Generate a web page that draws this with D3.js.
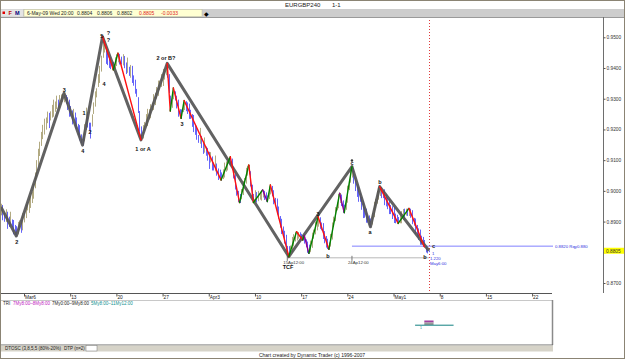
<!DOCTYPE html>
<html><head><meta charset="utf-8">
<script src="https://cdn.jsdelivr.net/npm/d3@7"></script>
<style>html,body{margin:0;padding:0;background:#fff;}svg{display:block;font-family:"Liberation Sans",Arial,sans-serif;}</style>
</head><body><svg id="c" width="625" height="359"></svg>
<script>
// ---------- DATA ----------
const symbol = "EURGBP240", pageNo = "1-1";
const infoDate = "6-May-09 Wed 20:00";
const infoOHLC = ["0.8804", "0.8806", "0.8802"];
const infoLast = ["0.8805", "-0.0033"];
const lastPrice = 0.8805;

// trading-day index: Mon 2 Mar 2009 = day 0, 5 days a week
const tickDays = [4, 9, 14, 19, 24, 29, 34, 39, 44, 49, 54, 59];
const tickLabels = ["Mar6", "13", "20", "27", "Apr3", "10", "17", "24", "May1", "8", "15", "22"];
const priceTicks = [0.87, 0.88, 0.89, 0.90, 0.91, 0.92, 0.93, 0.94, 0.95];

// 4-hour bars, first bar Tue 3 Mar 12:00
const firstBarDay = 1.5, barsPerDay = 6;
const barHigh = [
0.8958,0.8954,0.8929,0.8940,0.8932,0.8916,0.8932,0.8907,0.8905,0.8889,
0.8885,0.8899,0.8904,0.8905,0.8927,0.8931,0.8957,0.8962,0.8980,0.8984,
0.8998,0.9024,0.9060,0.9100,0.9137,0.9160,0.9192,0.9215,0.9235,0.9239,
0.9258,0.9254,0.9259,0.9280,0.9297,0.9291,0.9310,0.9297,0.9312,0.9314,
0.9316,0.9318,0.9312,0.9305,0.9297,0.9276,0.9262,0.9267,0.9255,0.9239,
0.9218,0.9214,0.9184,0.9180,0.9217,0.9271,0.9252,0.9222,0.9222,0.9249,
0.9288,0.9324,0.9334,0.9380,0.9407,0.9440,0.9502,0.9485,0.9465,0.9449,
0.9438,0.9434,0.9419,0.9420,0.9435,0.9445,0.9448,0.9446,0.9437,0.9445,
0.9439,0.9418,0.9434,0.9404,0.9410,0.9407,0.9376,0.9362,0.9332,0.9305,
0.9260,0.9210,0.9214,0.9224,0.9250,0.9267,0.9266,0.9282,0.9287,0.9315,
0.9319,0.9338,0.9359,0.9359,0.9380,0.9397,0.9396,0.9412,0.9415,0.9380,
0.9310,0.9308,0.9335,0.9324,0.9310,0.9297,0.9266,0.9265,0.9282,0.9294,
0.9292,0.9288,0.9284,0.9264,0.9250,0.9247,0.9216,0.9212,0.9182,0.9205,
0.9179,0.9158,0.9174,0.9144,0.9140,0.9127,0.9126,0.9112,0.9092,0.9115,
0.9089,0.9073,0.9069,0.9060,0.9070,0.9092,0.9096,0.9108,0.9109,0.9111,
0.9105,0.9078,0.9054,0.9014,0.9000,0.8990,0.9006,0.9032,0.9042,0.9075,
0.9082,0.9084,0.9064,0.9020,0.8990,0.9002,0.8996,0.9000,0.8997,0.9002,
0.9003,0.9000,0.8995,0.8985,0.9015,0.9019,0.9016,0.9002,0.8977,0.8975,
0.8949,0.8918,0.8909,0.8884,0.8870,0.8857,0.8821,0.8820,0.8822,0.8850,
0.8859,0.8865,0.8867,0.8866,0.8865,0.8860,0.8855,0.8855,0.8842,0.8835,
0.8825,0.8838,0.8864,0.8874,0.8900,0.8914,0.8916,0.8914,0.8897,0.8895,
0.8869,0.8853,0.8844,0.8832,0.8860,0.8897,0.8916,0.8947,0.8962,0.8990,
0.8992,0.8988,0.8969,0.8955,0.8980,0.9017,0.9036,0.9072,0.9079,0.9075,
0.9039,0.9018,0.9014,0.8994,0.8980,0.8967,0.8946,0.8942,0.8922,0.8920,
0.8910,0.8928,0.8964,0.8974,0.9000,0.9012,0.9014,0.9012,0.9002,0.9005,
0.8989,0.8978,0.8974,0.8954,0.8950,0.8947,0.8926,0.8922,0.8915,0.8930,
0.8934,0.8941,0.8942,0.8942,0.8942,0.8943,0.8942,0.8937,0.8912,0.8910,
0.8889,0.8878,0.8874,0.8854,0.8850,0.8840,0.8820,0.8812,0.8806];
const barLow = [
0.8922,0.8906,0.8901,0.8900,0.8878,0.8884,0.8888,0.8883,0.8860,0.8858,
0.8853,0.8860,0.8876,0.8865,0.8873,0.8899,0.8913,0.8938,0.8930,0.8946,
0.8962,0.8976,0.9010,0.9045,0.9083,0.9115,0.9148,0.9170,0.9185,0.9201,
0.9222,0.9206,0.9231,0.9240,0.9243,0.9259,0.9268,0.9273,0.9270,0.9286,
0.9292,0.9290,0.9286,0.9265,0.9243,0.9244,0.9218,0.9243,0.9205,0.9201,
0.9182,0.9166,0.9156,0.9149,0.9163,0.9200,0.9208,0.9198,0.9172,0.9211,
0.9252,0.9276,0.9306,0.9340,0.9353,0.9390,0.9435,0.9452,0.9415,0.9411,
0.9402,0.9398,0.9397,0.9394,0.9400,0.9408,0.9420,0.9413,0.9413,0.9410,
0.9401,0.9382,0.9386,0.9376,0.9370,0.9353,0.9344,0.9318,0.9308,0.9255,
0.9195,0.9166,0.9172,0.9196,0.9210,0.9213,0.9234,0.9238,0.9263,0.9265,
0.9281,0.9302,0.9311,0.9331,0.9340,0.9343,0.9364,0.9378,0.9370,0.9320,
0.9260,0.9272,0.9300,0.9296,0.9270,0.9243,0.9240,0.9236,0.9258,0.9265,
0.9261,0.9252,0.9236,0.9236,0.9210,0.9193,0.9184,0.9168,0.9158,0.9155,
0.9141,0.9122,0.9126,0.9116,0.9100,0.9073,0.9094,0.9068,0.9068,0.9065,
0.9051,0.9037,0.9038,0.9035,0.9040,0.9045,0.9064,0.9068,0.9088,0.9085,
0.9071,0.9042,0.9006,0.8986,0.8965,0.8962,0.8974,0.8988,0.9018,0.9025,
0.9051,0.9055,0.9016,0.8980,0.8962,0.8965,0.8964,0.8968,0.8973,0.8970,
0.8980,0.8972,0.8968,0.8965,0.8975,0.8990,0.8984,0.8958,0.8953,0.8925,
0.8911,0.8882,0.8861,0.8856,0.8830,0.8803,0.8789,0.8786,0.8798,0.8800,
0.8821,0.8837,0.8840,0.8846,0.8841,0.8842,0.8840,0.8830,0.8818,0.8800,
0.8797,0.8802,0.8816,0.8846,0.8860,0.8873,0.8885,0.8878,0.8873,0.8845,
0.8831,0.8817,0.8812,0.8810,0.8820,0.8843,0.8884,0.8903,0.8938,0.8945,
0.8962,0.8952,0.8931,0.8929,0.8940,0.8963,0.9004,0.9028,0.9045,0.9025,
0.9001,0.8982,0.8966,0.8966,0.8940,0.8913,0.8914,0.8898,0.8898,0.8888,
0.8883,0.8892,0.8916,0.8946,0.8960,0.8973,0.8985,0.8978,0.8978,0.8955,
0.8951,0.8942,0.8926,0.8926,0.8910,0.8897,0.8896,0.8896,0.8894,0.8896,
0.8896,0.8907,0.8906,0.8921,0.8920,0.8920,0.8914,0.8893,0.8888,0.8860,
0.8851,0.8842,0.8826,0.8826,0.8820,0.8818,0.8801,0.8798,0.8802];

// major swing (bar index, price)
const majorBars   = [0, 10, 41, 53, 66, 91, 108, 187, 228, 240, 246, 278];
const majorPrices = [0.8948, 0.8853, 0.9318, 0.9149, 0.9502, 0.9166, 0.9415, 0.8786, 0.9079, 0.8883, 0.9014, 0.8805];

// minor swings (runs of [bar index, price])
const minorRuns = [
  [[66,0.9502],[73,0.9394],[76,0.9448],[91,0.9166]],
  [[108,0.9415],[110,0.9260],[112,0.9335],[117,0.9236],[119,0.9294],[143,0.9035],[149,0.9111],
   [155,0.8962],[161,0.9084],[164,0.8962],[170,0.9003],[173,0.8965],[175,0.9019],[187,0.8786],
   [192,0.8867],[196,0.8840],[197,0.8855],[200,0.8797],[206,0.8916],[213,0.8810],[220,0.8992],
   [223,0.8929],[228,0.9079]],
  [[246,0.9014],[258,0.8894],[265,0.8943],[275,0.8818]]
];
const purpleLegStarts = [170, 197, 220];

// wave labels: text, bar index, price
const waveText  = ["2","3","4","1","2","5","?","?","4","1 or A","2 or B?","3","3","b","c","a","b","b","TCF"];
const waveBar   = [10.3,41.2,53.1,54,57.9,65.5,69.9,69.9,67,92.3,107.2,117.6,206,212.4,228,239.7,246.2,275.4,186.5];
const wavePrice = [0.8834,0.9328,0.9130,0.9254,0.9192,0.9503,0.9514,0.9491,0.9348,0.9136,0.9433,0.9218,0.8925,0.8788,0.9091,0.8866,0.9029,0.8785,0.8752];

// time/price annotations
const timeMarkDays = [32.5, 39.5];
const timeMarkLabels = ["15Ap12:00", "24Ap12:00"];
const timeLinePrice = 0.8782;
const targetPrice = 0.8820, targetLabel = "0.8820 Rqy0.880";
const projLabels = ["1", "1.220", "May6:00"];

// time range indicator (TRI)
const triLabels = ["7My8:00–8My8:00", "7My0:00–9My8:00", "5My8:00–11My12:00"];
const triStart = [47.333, 47.333, 46.333];
const triEnd   = [48.333, 48.333, 50.5];
const tabLabels = ["DTOSC (3,8,5,5 (80%-20%)", "DTP (n=2)", "TRI"];
const footer = "Chart created by Dynamic Trader  (c) 1996-2007";

// ---------- DRAW ----------
const svg = d3.select("#c");
const W = 625, H = 359;
const plotL = 1, plotR = 603, plotT = 17, plotB = 293, axisEnd = 552;
const x = d3.scaleLinear().domain([4, 59]).range([24, 532.1]);
const y = d3.scaleLinear().domain([0.87, 0.95]).range([283, 37.3]);
const barDay = i => firstBarDay + i / barsPerDay;
const bx = i => x(barDay(i));

svg.append("rect").attr("width", W).attr("height", H).attr("fill", "#fff");

// header
svg.append("text").attr("x", 285).attr("y", 7).attr("font-size", 6).attr("fill", "#222").text(symbol);
svg.append("text").attr("x", 332).attr("y", 7).attr("font-size", 6).attr("fill", "#222").text(pageNo);
svg.append("rect").attr("x", 1).attr("y", 9).attr("width", 623).attr("height", 8).attr("fill", "#cdcdcd");
svg.append("rect").attr("x", 1).attr("y", 9.5).attr("width", 22).attr("height", 7).attr("fill", "#e4e4e4");
svg.append("rect").attr("x", 2.5).attr("y", 11.5).attr("width", 2.5).attr("height", 2.5).attr("fill", "#e00000");
svg.append("text").attr("x", 8.5).attr("y", 15).attr("font-size", 5.5).attr("font-weight", "bold").attr("fill", "#c00000").text("F");
svg.append("text").attr("x", 15).attr("y", 15).attr("font-size", 5.5).attr("font-weight", "bold").attr("fill", "#000080").text("M");
svg.append("rect").attr("x", 24).attr("y", 9.5).attr("width", 178).attr("height", 7).attr("fill", "#ffffd2").attr("stroke", "#bdbda0").attr("stroke-width", 0.5);
const info = svg.append("g").attr("font-size", 5).attr("fill", "#222");
info.append("text").attr("x", 27).attr("y", 15).text(infoDate);
infoOHLC.forEach((t, k) => info.append("text").attr("x", 77 + k * 20).attr("y", 15).text(t));
infoLast.forEach((t, k) => info.append("text").attr("x", 139 + k * 22).attr("y", 15).attr("fill", "#e02020").text(t));
svg.append("text").attr("x", 204).attr("y", 15.5).attr("font-size", 6).attr("fill", "#000").text("◆");

// plot frame lines
svg.append("line").attr("x1", 0).attr("x2", W).attr("y1", plotT + 0.5).attr("y2", plotT + 0.5).attr("stroke", "#9a9a9a");

svg.append("defs").append("clipPath").attr("id", "pc").append("rect")
  .attr("x", plotL).attr("y", plotT + 1).attr("width", plotR - plotL).attr("height", plotB - plotT - 1);
const plot = svg.append("g").attr("clip-path", "url(#pc)");

// current-time dotted line
const nowX = Math.round(bx(barHigh.length - 1)) + 0.5;
plot.append("line").attr("x1", nowX).attr("x2", nowX)
  .attr("y1", plotT + 3).attr("y2", plotB).attr("stroke", "#e03a3a").attr("stroke-width", 1).attr("stroke-dasharray", "1,2");

// time line with marks
plot.append("line").attr("x1", x(timeMarkDays[0])).attr("x2", bx(barHigh.length - 1))
  .attr("y1", y(timeLinePrice)).attr("y2", y(timeLinePrice)).attr("stroke", "#b8b8b8").attr("stroke-width", 1);
timeMarkDays.forEach((d, k) => {
  plot.append("line").attr("x1", x(d)).attr("x2", x(d)).attr("y1", y(timeLinePrice) - 2).attr("y2", y(timeLinePrice) + 3).attr("stroke", "#777");
  plot.append("text").attr("x", x(d) - 4).attr("y", y(timeLinePrice) + 6).attr("font-size", 4.3).attr("fill", "#333").text(timeMarkLabels[k]);
});

// target line
plot.append("line").attr("x1", x(timeMarkDays[1])).attr("x2", 553).attr("y1", y(targetPrice)).attr("y2", y(targetPrice))
  .attr("stroke", "#8080ff").attr("stroke-width", 1);
plot.append("text").attr("x", 555).attr("y", y(targetPrice) + 1.6).attr("font-size", 4.3).attr("fill", "#3030e0").text(targetLabel);

// bars
const bars = plot.append("g");
barHigh.forEach((h, i) => {
  const l = barLow[i];
  const mid = (h + l) / 2;
  const prevMid = i > 0 ? (barHigh[i - 1] + barLow[i - 1]) / 2 : mid;
  const col = mid >= prevMid ? "#b2aa82" : "#6464fa";
  const xx = Math.round(bx(i)) + 0.5;
  bars.append("line").attr("x1", xx).attr("x2", xx).attr("y1", y(h)).attr("y2", y(l) + 0.5)
    .attr("stroke", col).attr("stroke-width", 1);
});

// major swing
const lineGen = d3.line().x(d => bx(d[0])).y(d => y(d[1]));
plot.append("path").datum(majorBars.map((b, k) => [b, majorPrices[k]])).attr("d", lineGen)
  .attr("fill", "none").attr("stroke", "#555555").attr("stroke-width", 3).attr("stroke-linejoin", "round").attr("stroke-opacity", 0.92);

// minor swings
minorRuns.forEach(run => {
  for (let k = 0; k < run.length - 1; k++) {
    const a = run[k], b = run[k + 1];
    let col = b[1] > a[1] ? "#008000" : "#ff1010";
    if (purpleLegStarts.includes(a[0])) col = "#900090";
    plot.append("line").attr("x1", bx(a[0])).attr("y1", y(a[1])).attr("x2", bx(b[0])).attr("y2", y(b[1]))
      .attr("stroke", col).attr("stroke-width", 1.4).attr("stroke-linecap", "round");
  }
});

// wave labels
waveText.forEach((t, k) => {
  plot.append("text").attr("x", bx(waveBar[k])).attr("y", y(wavePrice[k]) + 2)
    .attr("text-anchor", "middle").attr("font-size", 5.5).attr("font-weight", "bold").attr("fill", "#111").text(t);
});
plot.append("circle").attr("cx", bx(228)).attr("cy", y(0.9099)).attr("r", 1.2).attr("fill", "#333");
plot.append("text").attr("x", bx(barHigh.length - 1) + 3).attr("y", y(targetPrice) + 1.5).attr("font-size", 5.5).attr("font-weight", "bold").attr("fill", "#222").text("c");
projLabels.forEach((t, k) => {
  plot.append("text").attr("x", bx(barHigh.length - 1) + (k === 0 ? 3 : 1)).attr("y", y(timeLinePrice) - 3 + k * 5)
    .attr("font-size", 4.3).attr("fill", "#3030e0").text(t);
});

// price axis
svg.append("line").attr("x1", plotR + 0.5).attr("x2", plotR + 0.5).attr("y1", plotT).attr("y2", plotB).attr("stroke", "#6e6e6e");
const yAx = svg.append("g").attr("transform", `translate(${plotR + 0.5},0)`)
  .call(d3.axisRight(y).tickValues(priceTicks).tickSize(2).tickPadding(1).tickFormat(d3.format(".4f")));
yAx.select(".domain").remove();
yAx.selectAll("text").attr("font-size", 4.8).attr("fill", "#333").attr("font-family", "Liberation Sans, Arial");
yAx.selectAll("line").attr("stroke", "#555");
// the last-price marker hides the tick label it covers
yAx.selectAll(".tick").filter(d => Math.abs(y(d) - y(lastPrice)) < 5).select("text").remove();
svg.append("rect").attr("x", plotR + 1).attr("y", y(lastPrice) - 3).attr("width", 21).attr("height", 6).attr("fill", "#ffff00");
svg.append("text").attr("x", plotR + 3).attr("y", y(lastPrice) + 1.8).attr("font-size", 4.8).attr("fill", "#333").text(d3.format(".4f")(lastPrice));

// time axis
svg.append("line").attr("x1", 0).attr("x2", axisEnd).attr("y1", plotB + 0.5).attr("y2", plotB + 0.5).attr("stroke", "#555");
const xAx = svg.append("g").attr("transform", `translate(0,${plotB + 0.5})`)
  .call(d3.axisBottom(x).tickValues(tickDays).tickSize(3).tickFormat((d, i) => tickLabels[i]));
xAx.select(".domain").remove();
xAx.selectAll("line").attr("stroke", "#555");
xAx.selectAll("text").attr("font-size", 4.8).attr("fill", "#222").attr("text-anchor", "start").attr("x", 0.5).attr("y", 2.5).attr("font-family", "Liberation Sans, Arial");

// lower panel (TRI)
svg.append("line").attr("x1", 0).attr("x2", axisEnd).attr("y1", 300.5).attr("y2", 300.5).attr("stroke", "#c8c8c8");
svg.append("line").attr("x1", axisEnd + 0.5).attr("x2", axisEnd + 0.5).attr("y1", 300).attr("y2", 345).attr("stroke", "#8a8a8a").attr("stroke-width", 1.5);
svg.append("line").attr("x1", 0).attr("x2", axisEnd + 1).attr("y1", 345).attr("y2", 345).attr("stroke", "#6a6a6a").attr("stroke-width", 1);
const triCols = ["#c020c0", "#222", "#109090"];
const tri = svg.append("g").attr("font-size", 4.5);
tri.append("text").attr("x", 3).attr("y", 305).attr("fill", "#222").text("TRI");
const triX = [13, 52, 91];
triLabels.forEach((t, k) => tri.append("text").attr("x", triX[k]).attr("y", 305).attr("fill", triCols[k]).text(t));
svg.append("rect").attr("x", x(triStart[0])).attr("y", 320.5).attr("width", x(triEnd[0]) - x(triStart[0])).attr("height", 2).attr("fill", "#a040a0");
svg.append("rect").attr("x", x(triStart[1])).attr("y", 322.5).attr("width", x(triEnd[1]) - x(triStart[1])).attr("height", 2.5).attr("fill", "#9a9a9a");
svg.append("line").attr("x1", x(triStart[2])).attr("x2", x(triEnd[2])).attr("y1", 325.2).attr("y2", 325.2).attr("stroke", "#108080").attr("stroke-width", 1);
svg.append("text").attr("x", x(triStart[2]) + 5).attr("y", 328.5).attr("font-size", 3.5).attr("fill", "#108080").text("1");

// tabs
svg.append("rect").attr("x", 0).attr("y", 345.5).attr("width", axisEnd + 1).attr("height", 6).attr("fill", "#d6d3c8");
const tabs = svg.append("g").attr("font-size", 4.5).attr("fill", "#222");
const tabX = [5, 64, 88];
svg.append("rect").attr("x", 86).attr("y", 345.5).attr("width", 11).attr("height", 5.5).attr("fill", "#fff").attr("stroke", "#777").attr("stroke-width", 0.5);
tabLabels.forEach((t, k) => tabs.append("text").attr("x", tabX[k]).attr("y", 350).text(t));
svg.append("text").attr("x", 312).attr("y", 356.5).attr("text-anchor", "middle").attr("font-size", 5).attr("fill", "#222").text(footer);

// outer frame
svg.append("rect").attr("x", 0.5).attr("y", 0.5).attr("width", W - 1).attr("height", H - 1).attr("fill", "none").attr("stroke", "#8b8474");
</script></body></html>
